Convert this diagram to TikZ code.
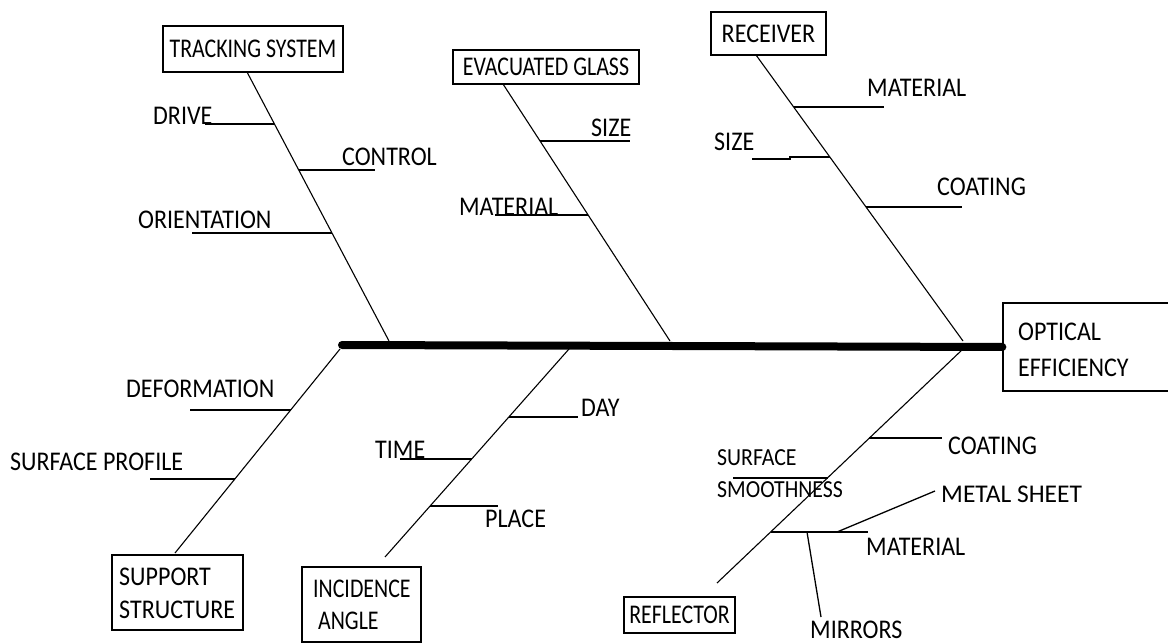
\documentclass[tikz,border=0pt]{standalone}
\usepackage{fontspec}
\setmainfont{Carlito}[FakeStretch=0.89]
\newfontfamily\plainfont{Carlito}
\newfontfamily\condfont{Carlito}[FakeStretch=0.81]
\begin{document}
\begin{tikzpicture}[x=1pt,y=-1pt,
  lbl/.style={font=\fontsize{27}{30}\selectfont, inner sep=0pt, anchor=west},
  plainlbl/.style={font=\plainfont\fontsize{25.5}{28}\selectfont, inner sep=0pt, anchor=west},
  box/.style={draw, line width=1.3pt, inner sep=0pt, font=\condfont\fontsize{27}{30}\selectfont},
  bone/.style={line width=1.1pt},
  twig/.style={line width=1.3pt},
  spine/.style={line width=8pt, line cap=round}]
\useasboundingbox (0,0) rectangle (1168,644);

% boxes
\node[box, minimum width=180pt, minimum height=46pt] (ts) at (253,49) {TRACKING SYSTEM};
\node[box, minimum width=186pt, minimum height=34pt] (eg) at (546,67) {EVACUATED GLASS};
\node[box, minimum width=115pt, minimum height=43pt, font=\fontsize{27}{30}\selectfont] (rc) at (768.5,33.5) {RECEIVER};
\node[box, minimum width=170pt, minimum height=88pt] (oe) at (1088,347) {};
\node[box, minimum width=131pt, minimum height=75pt] (ss) at (177.5,592.5) {};
\node[box, minimum width=119pt, minimum height=75pt] (ia) at (361.5,604.5) {};
\node[box, minimum width=111pt, minimum height=36pt] (rf) at (679.5,615) {REFLECTOR};

% texts inside two-line boxes
\node[lbl] (oe1) at (1018,332) {OPTICAL};
\node[lbl] (oe2) at (1018,368) {EFFICIENCY};
\node[lbl] (ss1) at (119,577) {SUPPORT};
\node[lbl] (ss2) at (119,610) {STRUCTURE};
\node[lbl, font=\condfont\fontsize{27}{30}\selectfont] (ia1) at (313,589) {INCIDENCE};
\node[lbl, font=\condfont\fontsize{27}{30}\selectfont] (ia2) at (318,621) {ANGLE};

% spine
\coordinate (sL) at (342,345);
\draw[spine] (sL) -- (oe.west);

% bone end points
\coordinate (tsA) at (247,72);  \coordinate (tsB) at (389,341);
\coordinate (egA) at (503,84);  \coordinate (egB) at (670,341);
\coordinate (rcA) at (756,55);  \coordinate (rcB) at (963,341);
\coordinate (ssA) at (340,349); \coordinate (ssB) at (175,553);
\coordinate (iaA) at (569,349); \coordinate (iaB) at (385,557);
\coordinate (rfA) at (963,349); \coordinate (rfB) at (717,583);

\draw[bone] (tsA) -- (tsB);
\draw[bone] (egA) -- (egB);
\draw[bone] (rcA) -- (rcB);
\draw[bone] (ssA) -- (ssB);
\draw[bone] (iaA) -- (iaB);
\draw[bone] (rfA) -- (rfB);

% twigs
\coordinate (t1a) at (205,124); \coordinate (t1b) at (274,124);
\coordinate (t2a) at (299,170); \coordinate (t2b) at (375,170);
\coordinate (t3a) at (192,233); \coordinate (t3b) at (332,233);
\coordinate (e1a) at (540,141); \coordinate (e1b) at (630,141);
\coordinate (e2a) at (495,215); \coordinate (e2b) at (588,215);
\coordinate (r1a) at (794,107); \coordinate (r1b) at (884,107);
\coordinate (r2a) at (752,159); \coordinate (r2m) at (790,159); \coordinate (r2n) at (790,157); \coordinate (r2b) at (830,157);
\coordinate (r3a) at (866,207); \coordinate (r3b) at (962,207);
\coordinate (s1a) at (190,410); \coordinate (s1b) at (291,410);
\coordinate (s2a) at (150,479); \coordinate (s2b) at (235,479);
\coordinate (i1a) at (509,417); \coordinate (i1b) at (578,417);
\coordinate (i2a) at (400,459); \coordinate (i2b) at (472,459);
\coordinate (i3a) at (430,506); \coordinate (i3b) at (498,506);
\coordinate (f1a) at (869,438); \coordinate (f1b) at (942,438);
\coordinate (f2a) at (733,478); \coordinate (f2b) at (828,478);
\coordinate (f3a) at (771,532); \coordinate (f3b) at (868,532);
\coordinate (f4a) at (837,532); \coordinate (f4b) at (935,491);
\coordinate (f5a) at (807,532); \coordinate (f5b) at (821,617);

\foreach \a/\b in {t1a/t1b,t2a/t2b,t3a/t3b,e1a/e1b,e2a/e2b,r1a/r1b,r3a/r3b,
  s1a/s1b,s2a/s2b,i1a/i1b,i2a/i2b,i3a/i3b,f1a/f1b,f2a/f2b,f3a/f3b,f4a/f4b,f5a/f5b}
  \draw[twig] (\a) -- (\b);
\draw[twig] (r2a) -- (r2m) -- (r2n) -- (r2b);

% labels
\node[lbl] (l1) at (153,116) {DRIVE};
\node[lbl] (l2) at (342,157) {CONTROL};
\node[lbl] (l3) at (138,220) {ORIENTATION};
\node[lbl] (l4) at (591,128) {SIZE};
\node[lbl] (l5) at (459,207) {MATERIAL};
\node[lbl] (l6) at (867,88) {MATERIAL};
\node[lbl] (l7) at (714,142) {SIZE};
\node[lbl] (l8) at (937,187) {COATING};
\node[lbl] (l9) at (126,389) {DEFORMATION};
\node[lbl] (l10) at (10,462) {SURFACE PROFILE};
\node[lbl] (l11) at (581,408) {DAY};
\node[lbl] (l12) at (375,450) {TIME};
\node[lbl] (l13) at (485,519) {PLACE};
\node[lbl] (l14) at (948,446) {COATING};
\node[lbl, font=\fontsize{24.5}{28}\selectfont] (l15) at (717,458) {SURFACE};
\node[lbl, font=\fontsize{24.5}{28}\selectfont] (l16) at (717,490) {SMOOTHNESS};
\node[plainlbl] (l17) at (941,494) {METAL SHEET};
\node[lbl] (l18) at (866,547) {MATERIAL};
\node[lbl] (l19) at (810,630) {MIRRORS};
\end{tikzpicture}
\end{document}
